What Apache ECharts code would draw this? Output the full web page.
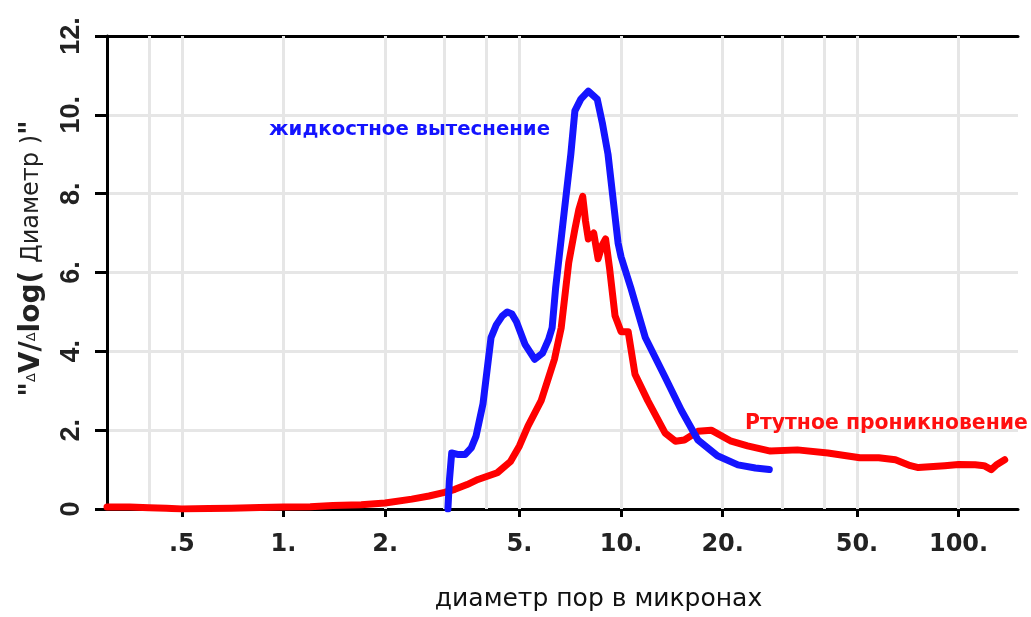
<!DOCTYPE html>
<html>
<head>
<meta charset="utf-8">
<script src="https://cdn.jsdelivr.net/npm/echarts@6/dist/echarts.min.js"></script>
<style>html,body{margin:0;padding:0;background:#fff;}#c{width:1031px;height:617px;}</style>
</head>
<body>
<div id="c"></div>
<script>
// Mercury intrusion (red)
const RED_X = [0.3,0.35,0.4,0.45,0.5,0.6,0.7,0.85,1.0,1.2,1.4,1.7,2.0,2.4,2.7,3.0,3.22,3.5,3.77,4.3,4.7,5.0,5.3,5.8,6.35,6.65,7.0,7.3,7.5,7.7,7.85,8.0,8.3,8.55,8.8,9.0,9.25,9.6,10.0,10.5,11.0,12.0,13.5,14.5,15.4,16.9,18.5,21.2,23.7,27.7,33.3,41,51,58,65,72,76,91,100,112,119,125,130,137];
const RED_Y = [0.05,0.05,0.03,0.02,0.0,0.01,0.02,0.04,0.05,0.06,0.09,0.11,0.15,0.25,0.33,0.42,0.5,0.62,0.75,0.92,1.2,1.6,2.1,2.75,3.8,4.6,6.25,7.1,7.6,7.93,7.3,6.85,7.0,6.35,6.7,6.85,6.1,4.9,4.5,4.5,3.42,2.75,1.93,1.72,1.75,1.97,2.0,1.72,1.6,1.47,1.5,1.42,1.3,1.3,1.25,1.1,1.05,1.1,1.13,1.12,1.1,1.0,1.13,1.25];
// Liquid displacement (blue)
const BLUE_X = [3.07,3.1,3.15,3.3,3.45,3.6,3.72,3.9,4.12,4.27,4.45,4.6,4.75,4.9,5.2,5.55,5.85,6.1,6.25,6.4,6.8,7.1,7.3,7.6,8.0,8.5,8.8,9.15,9.8,10.0,10.7,11.8,13.5,15.1,16.9,19.3,22.2,25,27.5];
const BLUE_Y = [0,0.7,1.42,1.38,1.38,1.55,1.85,2.67,4.35,4.67,4.9,5.0,4.95,4.75,4.17,3.8,3.95,4.3,4.6,5.6,7.6,9.0,10.1,10.4,10.6,10.4,9.8,9.0,6.75,6.4,5.6,4.35,3.35,2.5,1.75,1.35,1.12,1.04,1.0];

const X_TICKS = [0.5,1,2,5,10,20,50,100];
const X_TICK_LABELS = ['.5','1.','2.','5.','10.','20.','50.','100.'];
const X_GRID = [0.4,0.5,1,2,3,4,5,10,20,30,40,50,100];
const Y_TICKS = [0,2,4,6,8,10,12];
const Y_TICK_LABELS = ['0','2.','4.','6.','8.','10.','12.'];

const X_NAME = 'диаметр пор в микронах';
const BLUE_NAME = 'жидкостное вытеснение';
const RED_NAME = 'Ртутное проникновение';

const chart = echarts.init(document.getElementById('c'), null, {renderer:'canvas'});
function xLabel(v){
  let best = 0, bd = Infinity;
  X_TICKS.forEach((t,i)=>{const d=Math.abs(Math.log(v)-Math.log(t)); if(d<bd){bd=d;best=i;}});
  return X_TICK_LABELS[best];
}
function yLabel(v){
  const i = Y_TICKS.indexOf(Math.round(v));
  return i >= 0 ? Y_TICK_LABELS[i] : '';
}
const option = {
  animation:false,
  backgroundColor:'#fff',
  grid:{left:107,right:13,top:36,bottom:100,containLabel:false},
  xAxis:[{
    type:'log', logBase:10, min:0.3, max:150,
    name:X_NAME, nameLocation:'middle', nameGap:78,
    nameTextStyle:{fontFamily:'DejaVu Sans', fontSize:25, color:'#111', padding:[0,0,0,72]},
    axisLine:{show:true, lineStyle:{color:'#000', width:3}},
    axisTick:{show:true, length:8, customValues:X_TICKS, lineStyle:{color:'#000', width:3}},
    axisLabel:{show:true, customValues:X_TICKS, formatter:xLabel, margin:24,
      fontFamily:'DejaVu Sans', fontWeight:'bold', fontSize:24, color:'#222'},
    splitLine:{show:false}, minorTick:{show:false}, minorSplitLine:{show:false}
  },{
    type:'log', logBase:10, min:0.3, max:150, position:'top',
    axisLine:{show:true, lineStyle:{color:'#000', width:3}},
    axisTick:{show:false}, axisLabel:{show:false}, splitLine:{show:false}
  }],
  yAxis:{
    type:'value', min:0, max:12, interval:2,
    name:'{a|"}{d|Δ}{a|V/}{d|Δ}{a|log(}{n| Диаметр )}{a|"}',
    nameLocation:'middle', nameGap:61, nameRotate:90,
    nameTextStyle:{padding:[0,0,0,28], rich:{
      a:{fontFamily:'DejaVu Sans', fontWeight:'bold', fontSize:28, color:'#222'},
      d:{fontFamily:'DejaVu Sans', fontSize:13, color:'#222'},
      n:{fontFamily:'DejaVu Sans', fontSize:24, color:'#222'}
    }},
    axisLine:{show:true, lineStyle:{color:'#000', width:3}},
    axisTick:{show:true, length:12, lineStyle:{color:'#000', width:3}},
    axisLabel:{show:true, rotate:90, margin:22, formatter:yLabel,
      fontFamily:'Liberation Sans', fontWeight:'bold', fontSize:27, color:'#222'},
    splitLine:{show:true, lineStyle:{color:'#e6e6e6', width:3}}
  },
  series:[
    {
      type:'line', z:1, silent:true, symbol:'none',
      data:[[0.3,0],[150,0]], lineStyle:{opacity:0},
      markLine:{silent:true, z:1, symbol:'none', label:{show:false},
        lineStyle:{color:'#e6e6e6', width:3, type:'solid'},
        data:X_GRID.map(v=>({xAxis:v}))}
    },
    {
      name:RED_NAME, type:'line', z:6, symbol:'none', smooth:false,
      data:RED_X.map((x,i)=>[x,RED_Y[i]]),
      lineStyle:{color:'#ff0000', width:7, cap:'round', join:'round'}
    },
    {
      name:BLUE_NAME, type:'line', z:7, symbol:'none', smooth:false,
      data:BLUE_X.map((x,i)=>[x,BLUE_Y[i]]),
      lineStyle:{color:'#1414ff', width:7, cap:'round', join:'round'}
    }
  ],
  graphic:[
    {type:'text', left:269, top:120, z:10, style:{text:BLUE_NAME, fill:'#1414ff',
      font:'bold 19.7px "DejaVu Sans"'}},
    {type:'text', left:745, top:414, z:10, style:{text:RED_NAME, fill:'#ff1010',
      font:'bold 20.4px "DejaVu Sans"'}}
  ]
};
chart.setOption(option);
</script>
</body>
</html>
